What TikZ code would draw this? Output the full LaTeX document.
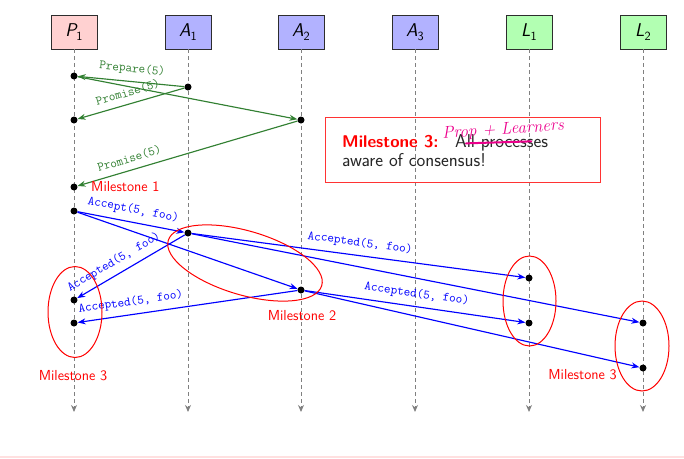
\documentclass[tikz,border=0pt]{standalone}
\usepackage{fontspec}
\usetikzlibrary{arrows.meta,shapes.geometric}
\definecolor{pgreen}{RGB}{50,128,50}
\definecolor{hdrline}{RGB}{45,45,45}
\newcommand{\hd}[2]{{\itshape #1}\raisebox{-0.22em}{\fontsize{12.5}{13}\selectfont #2}}
\begin{document}
\begin{tikzpicture}[x=1pt,y=-1pt,
  hdr/.style={draw=hdrline, line width=0.9pt, minimum width=46pt, minimum height=34pt, inner sep=0pt, font=\sffamily\fontsize{18.5}{20}\selectfont},
  life/.style={draw=gray, dash pattern=on 4pt off 3pt, line width=1pt, -{Stealth[length=7pt,width=6pt]}},
  dot/.style={circle, fill=black, inner sep=0pt, minimum size=7pt},
  gmsg/.style={draw=pgreen, line width=1.15pt, -{Stealth[length=8pt,width=6pt]}},
  bmsg/.style={draw=blue, line width=1.15pt, -{Stealth[length=8pt,width=6pt]}},
  glbl/.style={text=pgreen, font=\ttfamily\fontsize{12.8}{14}\selectfont, sloped, above=4pt, inner sep=2pt},
  blbl/.style={text=blue, font=\ttfamily\fontsize{12.8}{14}\selectfont, sloped, above=4pt, inner sep=2pt},
  ms/.style={ellipse, draw=red, line width=1pt, inner sep=0pt},
  mslbl/.style={text=red, font=\sffamily\fontsize{14.5}{16}\selectfont, inner sep=0pt},
  boxtxt/.style={anchor=base west, inner sep=0pt, text=black!85, font=\sffamily\fontsize{18.6}{21}\selectfont}
]
\useasboundingbox (0,0) rectangle (684,458);
\fill[red!12] (0,455.5) rectangle (684,458);

% headers
\node[hdr, fill=red!18] (P1) at (74,32) {\hd{P}{1}};
\node[hdr, fill=blue!30] (A1) at (188,32) {\hd{A}{1}};
\node[hdr, fill=blue!30] (A2) at (301,32) {\hd{A}{2}};
\node[hdr, fill=blue!30] (A3) at (415,32) {\hd{A}{3}};
\node[hdr, fill=green!30] (L1) at (529,32) {\hd{L}{1}};
\node[hdr, fill=green!30] (L2) at (643,32) {\hd{L}{2}};

\coordinate (P1e) at (74,412);
\coordinate (A1e) at (188,412);
\coordinate (A2e) at (301,412);
\coordinate (A3e) at (415,412);
\coordinate (L1e) at (529,412);
\coordinate (L2e) at (643,412);
\draw[life] (P1.south) -- (P1e);
\draw[life] (A1.south) -- (A1e);
\draw[life] (A2.south) -- (A2e);
\draw[life] (A3.south) -- (A3e);
\draw[life] (L1.south) -- (L1e);
\draw[life] (L2.south) -- (L2e);

% milestone box
\node[draw=red!80, line width=1pt, minimum width=275pt, minimum height=65pt, inner sep=0pt, anchor=north west] (box) at (325,117) {};
\node[anchor=base west, inner sep=0pt, text=red, font=\sffamily\bfseries\fontsize{17}{20}\selectfont] (m3) at (342,147) {Milestone 3:};
\node[boxtxt] (allp) at (455,147) {All processes};
\node[boxtxt] (aware) at (342,166) {aware of consensus!};
\draw[magenta, line width=2pt, line cap=round] ([xshift=11pt,yshift=-1pt]allp.west) -- ([xshift=-17pt,yshift=1pt]allp.east);
\node[text=magenta, rotate=4, inner sep=0pt, font=\itshape\fontsize{17}{20}\selectfont] (hand) at (503,130) {Prop + Learners};

% dots
\node[dot] (p1a) at (74,76) {};
\node[dot] (a1a) at (188,87) {};
\node[dot] (p1b) at (74,120) {};
\node[dot] (a2a) at (301,120) {};
\node[dot] (p1c) at (74,187) {};
\node[dot] (p1d) at (74,211) {};
\node[dot] (a1b) at (188,233) {};
\node[dot] (a2b) at (301,290) {};
\node[dot] (p1e) at (74,300) {};
\node[dot] (p1f) at (74,323) {};
\node[dot] (l1a) at (529,278) {};
\node[dot] (l1b) at (529,323) {};
\node[dot] (l2a) at (643,323) {};
\node[dot] (l2b) at (643,368) {};

% green messages
\draw[gmsg] (a1a) -- node[glbl]{Prepare(5)} (p1a);
\draw[gmsg] (p1a) -- (a2a);
\draw[gmsg] (a1a) -- node[glbl]{Promise(5)} (p1b);
\draw[gmsg] (a2a) -- node[glbl, pos=0.75]{Promise(5)} (p1c);

% blue messages
\draw[bmsg] (p1d) -- node[blbl]{Accept(5, foo)} (a1b);
\draw[bmsg] (p1d) -- (a2b);
\draw[bmsg] (a1b) -- node[blbl, pos=0.6]{Accepted(5, foo)} (p1e);
\draw[bmsg] (a2b) -- node[blbl, pos=0.75]{Accepted(5, foo)} (p1f);
\draw[bmsg] (a1b) -- node[blbl]{Accepted(5, foo)} (l1a);
\draw[bmsg] (a1b) -- (l2a);
\draw[bmsg] (a2b) -- node[blbl]{Accepted(5, foo)} (l1b);
\draw[bmsg] (a2b) -- (l2b);

% milestones
\node[mslbl, anchor=west] (ms1) at (91,187) {Milestone 1};
\node[ms, minimum width=160pt, minimum height=64pt, rotate=-16.4] (e2) at (245,263) {};
\node[mslbl] (ms2) at (302,316) {Milestone 2};
\node[ms, minimum width=54pt, minimum height=91pt] (e3a) at (75,312) {};
\node[mslbl] (ms3a) at (73,376) {Milestone 3};
\node[ms, minimum width=53pt, minimum height=90pt] (e3b) at (529.5,301) {};
\node[ms, minimum width=54pt, minimum height=90pt] (e3c) at (642,346) {};
\node[mslbl, anchor=east] (ms3b) at (617,375) {Milestone 3};
\end{tikzpicture}
\end{document}
